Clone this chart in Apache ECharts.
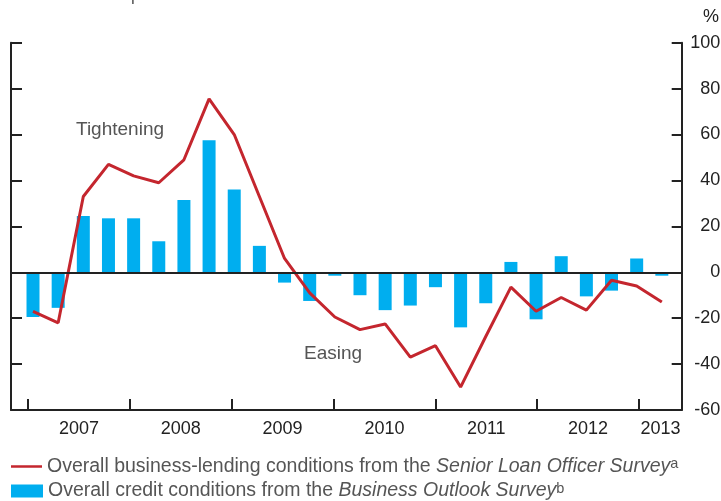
<!DOCTYPE html>
<html>
<head>
<meta charset="utf-8">
<script src="https://cdn.jsdelivr.net/npm/echarts@6/dist/echarts.min.js"></script>
<style>
html, body { margin: 0; padding: 0; background: #fff; }
#chart { width: 721px; height: 501px; }
</style>
</head>
<body>
<div id="chart"></div>
<script>
var quarters = ['2007Q1','2007Q2','2007Q3','2007Q4','2008Q1','2008Q2','2008Q3','2008Q4',
    '2009Q1','2009Q2','2009Q3','2009Q4','2010Q1','2010Q2','2010Q3','2010Q4',
    '2011Q1','2011Q2','2011Q3','2011Q4','2012Q1','2012Q2','2012Q3','2012Q4',
    '2013Q1','2013Q2'];
var lendingConditions = [-17, -22, 33, 47, 42, 39, 49, 75.5, 60, 33, 6, -9, -19.5, -25,
    -22.5, -37, -32, -50, -28, -6.5, -17, -11, -16.5, -3.5, -6, -13];
var creditConditions = [-19.5, -15.5, 24.5, 23.5, 23.5, 13.5, 31.5, 57.5, 36, 11.5, -4.5,
    -12.5, -1.5, -10, -16.5, -14.5, -6.5, -24, -13.5, 4.5, -20.5, 7, -10.5, -8, 6, -1.5];
var yearTicks = [2007, 2008, 2009, 2010, 2011, 2012, 2013];
var yearLabels = ['2007', '2008', '2009', '2010', '2011', '2012', '2013'];
var yearLabelPos = [2007.5, 2008.5, 2009.5, 2010.5, 2011.5, 2012.5, 2013.21];
var pctTicks = { min: -60, max: 100, step: 20 };

var lineName = 'Overall business-lending conditions from the Senior Loan Officer Survey';
var barName = 'Overall credit conditions from the Business Outlook Survey';

var font = 'Liberation Sans';
var lineColor = '#c4262e';
var barColor = '#00aeef';

var chartDom = document.getElementById('chart');
var myChart = echarts.init(chartDom);

var lineData = [];
var barData = [];
for (let i = 0; i < quarters.length; i++) {
    lineData.push([i, lendingConditions[i]]);
    barData.push([i, creditConditions[i]]);
}

var legendText = {
    fontFamily: font, fontSize: 19.5, color: '#555',
    rich: {
        n: { fontFamily: font, fontSize: 19.5, color: '#555', lineHeight: 20 },
        i: { fontFamily: font, fontSize: 19.5, color: '#555', fontStyle: 'italic', lineHeight: 20 },
        s: { fontFamily: font, fontSize: 14.5, color: '#555', verticalAlign: 'top', lineHeight: 14 }
    }
};
function legendFormatter(name) {
    if (name == lineName) {
        return '{n|Overall business-lending conditions from the }{i|Senior Loan Officer Survey}{s|a}';
    }
    return '{n|Overall credit conditions from the }{i|Business Outlook Survey}{s|b}';
}

var option = {
    animation: false,
    textStyle: { fontFamily: font },
    grid: { left: 11, right: 39.3, top: 42.7, bottom: 91, outerBoundsMode: 'none', containLabel: false },
    xAxis: [
        { type: 'value', min: -0.875, max: 25.79, show: false },
        {
            type: 'value', position: 'bottom', min: 2006.833, max: 2013.419,
            axisLine: { onZero: false, lineStyle: { color: '#222', width: 2 } },
            axisTick: { inside: true, length: 11, customValues: yearTicks, lineStyle: { color: '#222', width: 2 } },
            axisLabel: {
                customValues: yearLabelPos, margin: 10, fontSize: 18, color: '#222', fontFamily: font,
                formatter: function (v) { return yearLabels[yearLabelPos.indexOf(v)]; }
            },
            splitLine: { show: false }
        }
    ],
    yAxis: [
        {
            type: 'value', position: 'left', min: pctTicks.min, max: pctTicks.max, interval: pctTicks.step,
            axisLine: { show: true, onZero: false, lineStyle: { color: '#222', width: 2 } },
            axisTick: { show: true, inside: true, length: 11, lineStyle: { color: '#222', width: 2 } },
            axisLabel: { show: false },
            splitLine: { show: false }
        },
        {
            type: 'value', position: 'right', min: pctTicks.min, max: pctTicks.max, interval: pctTicks.step,
            axisLine: { show: true, onZero: false, lineStyle: { color: '#222', width: 2 } },
            axisTick: { show: true, inside: true, length: 10, lineStyle: { color: '#222', width: 2 } },
            axisLabel: { align: 'right', margin: 38.5, fontSize: 18, color: '#222', fontFamily: font },
            splitLine: { show: false }
        }
    ],
    legend: [
        {
            left: 11, top: 456.5, padding: 0, itemWidth: 31, itemHeight: 2.5, icon: 'rect',
            selectedMode: false, data: [lineName],
            textStyle: legendText, formatter: legendFormatter
        },
        {
            left: 11, top: 481, padding: 0, itemWidth: 32, itemHeight: 13, icon: 'rect',
            selectedMode: false, data: [barName],
            textStyle: legendText, formatter: legendFormatter
        }
    ],
    graphic: [
        { type: 'text', left: 25, top: -15, style: { text: 'Balance of opinion', font: '19px ' + font, fill: '#666' } },
        { type: 'text', right: 2, top: 8, style: { text: '%', font: '18px ' + font, fill: '#222' } },
        { type: 'text', left: 76, top: 120, style: { text: 'Tightening', font: '19px ' + font, fill: '#555' } },
        { type: 'text', left: 304, top: 344, style: { text: 'Easing', font: '19px ' + font, fill: '#555' } }
    ],
    series: [
        {
            name: barName, type: 'bar', xAxisIndex: 0, yAxisIndex: 0,
            data: barData, barWidth: 13,
            itemStyle: { color: barColor },
            markLine: {
                silent: true, symbol: ['none', 'none'], label: { show: false },
                lineStyle: { color: '#222', width: 2, type: 'solid' },
                data: [{ yAxis: 0 }]
            }
        },
        {
            name: lineName, type: 'line', xAxisIndex: 0, yAxisIndex: 0,
            data: lineData, symbol: 'none',
            itemStyle: { color: lineColor },
            lineStyle: { color: lineColor, width: 3 }
        }
    ]
};

option && myChart.setOption(option);
</script>
</body>
</html>
